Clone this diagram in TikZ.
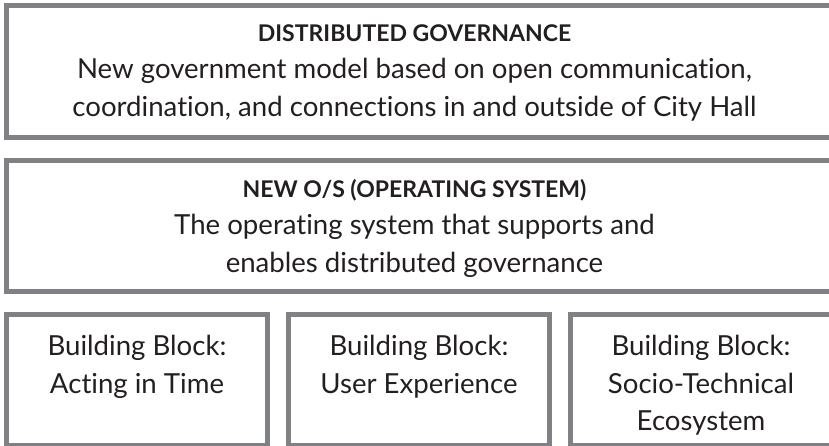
\documentclass[tikz,border=0pt]{standalone}
\usepackage{fontspec}
\setmainfont{Lato}[Ligatures=NoCommon]
\usetikzlibrary{positioning}

\definecolor{framegrey}{RGB}{128,129,132}
\definecolor{inkblack}{RGB}{35,31,32}
\newcommand{\paneltitle}[1]{{\fontsize{23}{37.5}\selectfont\bfseries #1}}

\begin{document}
\begin{tikzpicture}[x=1pt,y=1pt,
                panel/.style={
                    draw=framegrey,
                    line width=5pt,
                    rectangle,
                    minimum width=826pt,
                    minimum height=132pt,
                    inner sep=0pt
                },
                block/.style={
                    panel,
                    minimum width=261pt,
                    minimum height=131pt
                },
                paneltext/.style={
                    align=center,
                    text=inkblack,
                    inner sep=0pt,
                    anchor=north,
                    font=\fontsize{27.6}{37.5}\selectfont
                }
            ]
                \useasboundingbox (0,0) rectangle (829,446);

                % the three layers, top to bottom
                \node[panel] (gov) at (419.5,374.5) {};
                \node[panel, minimum height=131pt, below=18pt of gov] (os) {};
                \node[block, below=18pt of os.south west, anchor=north west] (acting) {};
                \node[block, right=16pt of acting] (ux) {};
                \node[block, right=16pt of ux] (socio) {};

                % texts hang from the top edge of each box
                \node[paneltext, below=21pt of gov.north, xshift=-5pt] (govtext)
                    {\paneltitle{DISTRIBUTED GOVERNANCE}\\
                     New government model based on open communication,\\
                     coordination, and connections in and outside of City Hall};
                \node[paneltext, below=21pt of os.north, xshift=-5pt] (ostext)
                    {\paneltitle{NEW O/S (OPERATING SYSTEM)}\\
                     The operating system that supports and\\
                     enables distributed governance};
                \node[paneltext, below=23pt of acting.north] (actingtext)
                    {Building Block:\\ Acting in Time};
                \node[paneltext, below=23pt of ux.north] (uxtext)
                    {Building Block:\\ User Experience};
                \node[paneltext, below=23pt of socio.north] (sociotext)
                    {Building Block:\\ Socio-Technical\\ Ecosystem};
        \end{tikzpicture}
\end{document}
